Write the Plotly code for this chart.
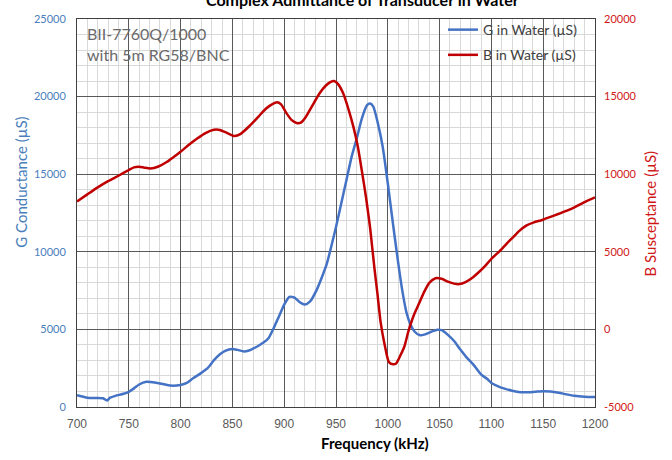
import plotly.graph_objects as go

# ---- data ----
g_freq = [700, 705, 710, 715, 720, 725, 729, 732, 737, 745, 750, 755, 760, 767, 775, 783, 790, 800,
          806, 812, 820, 826, 832, 838, 843, 850, 855, 861, 866, 870, 876, 880, 885, 890, 895, 900,
          905, 910, 915, 920, 925, 931, 936, 941, 946, 950, 955, 960, 965, 970, 975, 980, 983, 986,
          990, 995, 1000, 1005, 1010, 1014, 1018, 1022, 1026, 1031, 1036, 1042, 1048, 1052, 1058,
          1064, 1070, 1076, 1083, 1090, 1096, 1100, 1106, 1112, 1120, 1128, 1135, 1142, 1150, 1157,
          1165, 1172, 1180, 1190, 1200]
g_vals = [760, 680, 600, 580, 580, 560, 420, 600, 720, 850, 980, 1200, 1450, 1620, 1580, 1480, 1380, 1420,
          1550, 1850, 2200, 2500, 3000, 3400, 3620, 3740, 3680, 3580, 3640, 3760, 3980, 4150, 4450, 5100, 5850, 6600,
          7100, 7050, 6750, 6600, 6800, 7500, 8300, 9200, 10500, 11600, 13100, 14600, 16100, 17300, 18600, 19450, 19550, 19350,
          18400, 16800, 14400, 11800, 9300, 7500, 6100, 5300, 4850, 4620, 4680, 4850, 4980, 4950, 4650,
          4250, 3700, 3200, 2700, 2100, 1800, 1550, 1350, 1200, 1050, 950, 950, 980, 1020, 1000,
          920, 820, 720, 660, 640]

b_freq = [700, 710, 720, 730, 740, 750, 755, 760, 765, 771, 778, 787, 793, 800, 808, 816, 824, 832, 838,
          845, 852, 858, 867, 875, 882, 887, 893, 897, 902, 907, 912, 916, 920, 927, 934, 940, 945, 948,
          952, 957, 962, 967, 971, 975, 979, 983, 987, 990, 993, 997, 1001, 1005, 1008, 1012, 1016, 1020,
          1025, 1030, 1035, 1040, 1046, 1052, 1058, 1064, 1069, 1075, 1082, 1088, 1094, 1100, 1108, 1115,
          1121, 1127, 1134, 1141, 1149, 1157, 1165, 1173, 1181, 1190, 1200]
b_vals = [8240, 8700, 9150, 9550, 9900, 10270, 10440, 10480, 10420, 10370, 10480, 10800, 11100, 11450, 11900, 12300, 12650, 12860, 12850,
          12650, 12460, 12600, 13140, 13700, 14200, 14450, 14630, 14500, 13950, 13500, 13300, 13320, 13600, 14400, 15200, 15700, 15950, 16000,
          15800, 15200, 14200, 13000, 11800, 10200, 8500, 6500, 4000, 2300, 500, -1000, -2100, -2250, -2200, -1700, -1100, -100,
          900, 1650, 2400, 3000, 3300, 3260, 3080, 2950, 2920, 3050, 3350, 3700, 4100, 4550, 5050, 5550,
          5950, 6350, 6700, 6900, 7050, 7250, 7450, 7650, 7900, 8200, 8500]

x_ticks = [700, 750, 800, 850, 900, 950, 1000, 1050, 1100, 1150, 1200]
g_ticks = [0, 5000, 10000, 15000, 20000, 25000]
b_ticks = [-5000, 0, 5000, 10000, 15000, 20000]

BLUE = "#4472C4"
RED = "#C00000"
BLUE_TXT = "#4A7EBB"
RED_TXT = "#D01818"
CAL = "Lato, 'Open Sans', sans-serif"

fig = go.Figure()
fig.add_trace(go.Scatter(x=g_freq, y=g_vals, name="G in Water (µS)", mode="lines",
                         line=dict(color=BLUE, width=2.5, shape="spline", smoothing=0.6),
                         legendgroup="g", yaxis="y"))
fig.add_trace(go.Scatter(x=b_freq, y=b_vals, name="B in Water (µS)", mode="lines",
                         line=dict(color=RED, width=2.5, shape="spline", smoothing=0.6),
                         legendgroup="b", yaxis="y2"))

L, R, T, B = 77, 77, 16, 53
PW, PH = 672 - L - R, 460 - T - B

def px(xp):
    return (xp - L) / PW

def py(yp):
    return (460 - B - yp) / PH

major = "#595959"
minor = "#D9D9D9"

fig.update_layout(
    width=672, height=460,
    margin=dict(l=L, r=R, t=T, b=B, pad=0),
    paper_bgcolor="white", plot_bgcolor="white",
    showlegend=True,
    legend=dict(x=px(583), xanchor="right", y=py(11), yanchor="top",
                bgcolor="rgba(0,0,0,0)", borderwidth=0,
                font=dict(family=CAL, size=14, color="#404040"),
                tracegroupgap=4),
    xaxis=dict(range=[700, 1200], tickvals=x_ticks, ticktext=[str(v) for v in x_ticks],
               showgrid=True, gridcolor=major, gridwidth=1,
               minor=dict(dtick=10, showgrid=True, gridcolor=minor, gridwidth=1),
               showline=True, linecolor="#404040", linewidth=1, mirror=True,
               ticks="", ticklabelstandoff=6,
               tickfont=dict(family="Liberation Sans, Arial", size=12, color="#595959"),
               zeroline=False),
    yaxis=dict(range=[0, 25000], tickvals=g_ticks, ticktext=[str(v) for v in g_ticks],
               showgrid=True, gridcolor=major, gridwidth=1,
               minor=dict(dtick=1000, showgrid=True, gridcolor=minor, gridwidth=1),
               showline=True, linecolor="#404040", linewidth=1, mirror=True,
               ticks="", ticklabelstandoff=8,
               tickfont=dict(family=CAL, size=11, color=BLUE_TXT),
               zeroline=False),
    yaxis2=dict(range=[-5000, 20000], tickvals=b_ticks, ticktext=[str(v) for v in b_ticks],
                overlaying="y", side="right", showgrid=False, zeroline=False,
                ticks="", ticklabelstandoff=8,
                tickfont=dict(family=CAL, size=11, color=RED_TXT)),
)

# white boxes behind the label text and legend (cover gridlines)
fig.add_shape(type="rect", xref="paper", yref="paper", x0=0, x1=px(240), y0=py(67), y1=1,
              fillcolor="white", line=dict(width=0), layer="below")
fig.add_shape(type="rect", xref="paper", yref="paper", x0=px(445), x1=1, y0=py(68), y1=1,
              fillcolor="white", line=dict(width=0), layer="below")

annos = [
    dict(text="<b>Complex Admittance of Transducer in Water</b>", x=px(362), y=py(-4),
         font=dict(family=CAL, size=16, color="#000000")),
    dict(text="<b>Frequency (kHz)</b>", x=px(375), y=py(443),
         font=dict(family=CAL, size=15, color="#000000")),
    dict(text="G Conductance (µS)", x=px(21), y=py(181), textangle=-90,
         font=dict(family=CAL, size=15, color=BLUE_TXT)),
    dict(text="B Susceptance (µS)", x=px(650), y=py(212), textangle=-90,
         font=dict(family=CAL, size=15, color=RED_TXT)),
]
for a in annos:
    fig.add_annotation(xref="paper", yref="paper", showarrow=False,
                       xanchor="center", yanchor="middle", **a)

fig.add_annotation(xref="paper", yref="paper", showarrow=False, x=px(85), y=py(41),
                   xanchor="left", yanchor="middle", align="left",
                   text="BII-7760Q/1000<br>with 5m RG58/BNC",
                   font=dict(family=CAL, size=16, color="#6A6A6A"))

fig.write_html("out.html", config={"displayModeBar": False},
               post_script="document.body.style.margin='0';document.body.style.padding='0';")
